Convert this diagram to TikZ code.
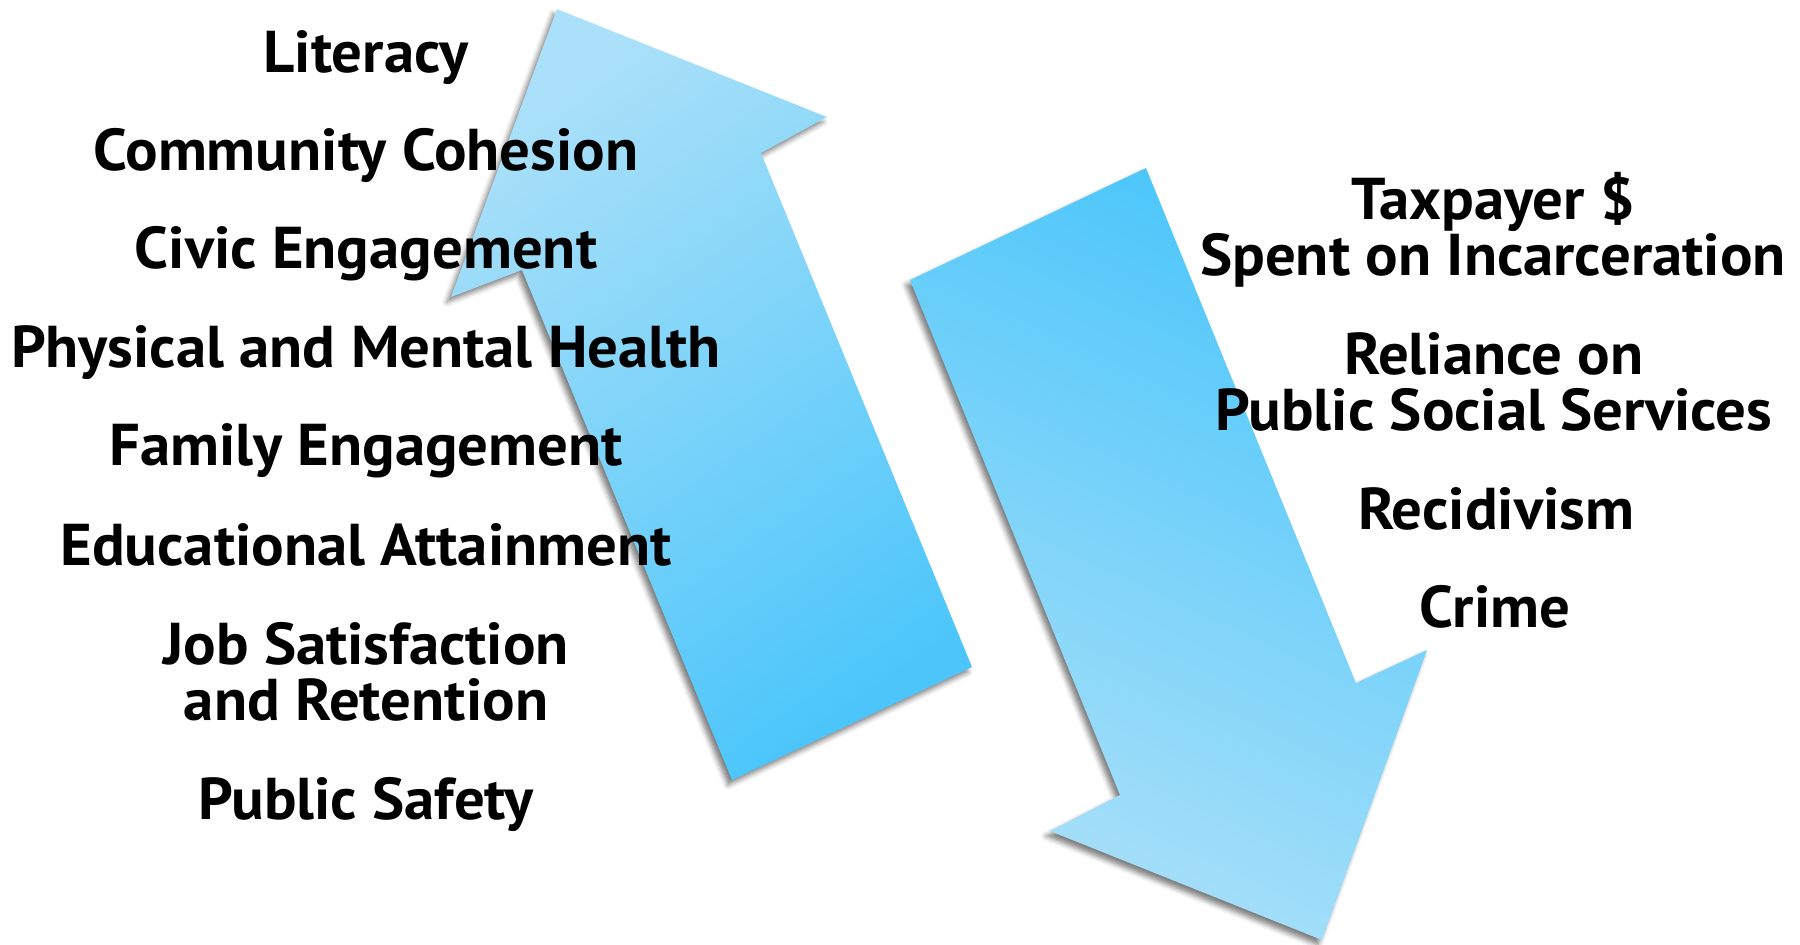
\documentclass[tikz,border=0pt]{standalone}
\usepackage{fontspec}
\setmainfont{PT Sans}[FakeStretch=1.03]
\usetikzlibrary{shadows.blur}
\definecolor{darkb}{RGB}{76,198,250}
\definecolor{lightb}{RGB}{170,224,249}
\tikzset{
  lbl/.style={anchor=base, align=center, font=\bfseries\fontsize{29.5}{28}\selectfont, text=black, inner sep=0pt},
  arrowshape/.style={blur shadow={shadow xshift=-2pt, shadow yshift=-2.5pt, shadow blur radius=2.5pt, shadow opacity=50}}
}
\begin{document}
\begin{tikzpicture}[x=0.5pt,y=-0.5pt]
\useasboundingbox (0,0) rectangle (1800,944);
% up arrow
\path[arrowshape, top color=lightb, middle color=darkb!95!lightb, bottom color=darkb, shading angle=35]
  (557,9) -- (827,117) -- (761,153) -- (972,667) -- (732,780) -- (522,270) -- (451,297) -- cycle;
% down arrow
\path[arrowshape, top color=darkb, middle color=darkb!75!lightb, bottom color=lightb, shading angle=-25]
  (910,280) -- (1146,168) -- (1356,683) -- (1427,650) -- (1322,940) -- (1050,831) -- (1120,795) -- cycle;
% left labels
\node[lbl] (lit) at (366,72) {Literacy};
\node[lbl] (com) at (366,170) {Community Cohesion};
\node[lbl] (civ) at (366,268) {Civic Engagement};
\node[lbl] (phy) at (366,367) {Physical and Mental Health};
\node[lbl] (fam) at (366,465) {Family Engagement};
\node[lbl] (edu) at (366,565) {Educational Attainment};
\node[lbl] (job) at (366,720) {Job Satisfaction\\and Retention};
\node[lbl] (pub) at (366,819) {Public Safety};
% right labels
\node[lbl] (tax) at (1493,275) {Taxpayer \$\\Spent on Incarceration};
\node[lbl] (rel) at (1494,430) {Reliance on\\Public Social Services};
\node[lbl] (rec) at (1496,529) {Recidivism};
\node[lbl] (cri) at (1495,627) {Crime};
\end{tikzpicture}
\end{document}
